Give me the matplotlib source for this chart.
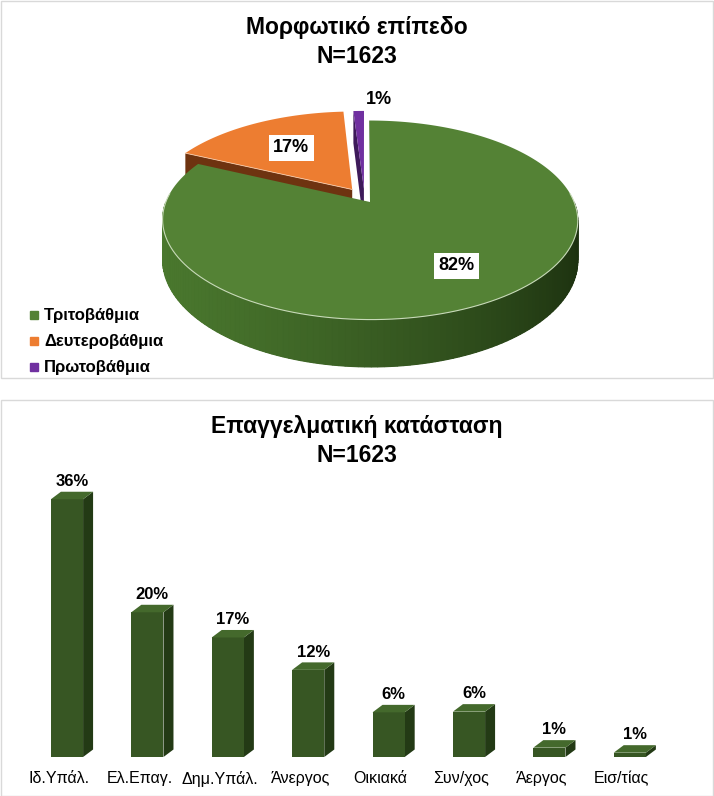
import numpy as np
import matplotlib
matplotlib.use('Agg')
import matplotlib.pyplot as plt
from matplotlib.patches import Polygon, Rectangle
from matplotlib.lines import Line2D
from matplotlib.transforms import ScaledTranslation

plt.rcParams['font.family'] = ['Liberation Sans', 'DejaVu Sans']

# ---- data ----
pie_title = 'Μορφωτικό επίπεδο\nN=1623'
edu_labels = ['Τριτοβάθμια', 'Δευτεροβάθμια', 'Πρωτοβάθμια']
edu_values = [82, 17, 1]
edu_colors = ['#548235', '#ED7D31', '#7030A0']
edu_face_colors = ['#2f4f1e', '#6e3310', '#3d1a5a']
edu_explode = [0.05, 0.11, 0.10]

bar_title = 'Επαγγελματική κατάσταση\nN=1623'
job_labels = ['Ιδ.Υπάλ.', 'Ελ.Επαγ.', 'Δημ.Υπάλ.', 'Άνεργος', 'Οικιακά',
              'Συν/χος', 'Άεργος', 'Εισ/τίας']
job_values = [35.8, 20.1, 16.6, 12.1, 6.2, 6.3, 1.3, 0.6]

W, H = 714, 796
fig = plt.figure(figsize=(W / 100, H / 100), dpi=100)

# panel borders
fig.add_artist(Rectangle((0.5 / W, 1 - 378 / H), 712 / W, 377 / H, transform=fig.transFigure,
                         fill=False, ec='#d9d9d9', lw=1))
fig.add_artist(Rectangle((0.5 / W, 0), 712 / W, 396 / H, transform=fig.transFigure,
                         fill=False, ec='#d9d9d9', lw=1))

fig.text(357 / W, 1 - 42 / H, pie_title, ha='center', va='center', fontsize=16.5,
         fontweight='bold', linespacing=1.35)
fig.text(357 / W, 1 - 441 / H, bar_title, ha='center', va='center', fontsize=16.5,
         fontweight='bold', linespacing=1.3)

# ---- 3D pie ----
P = 0.18      # perspective
DZ = 0.406    # thickness


def proj(u, v, z=0.0):
    u = np.asarray(u, dtype=float)
    v = np.asarray(v, dtype=float)
    w = 1 + P * v
    return u / w, (v - z * DZ) / w


def pts(u, v, z=0.0):
    x, y = proj(u, v, z)
    return np.column_stack([np.atleast_1d(x), np.atleast_1d(y)])


fracs = np.array(edu_values) / sum(edu_values)
starts = 90 - 360 * np.concatenate([[0], np.cumsum(fracs)[:-1]])
ends = starts - 360 * fracs
mids = (starts + ends) / 2
offs = [(e * np.cos(np.radians(m)), e * np.sin(np.radians(m))) for e, m in zip(edu_explode, mids)]

# keep the big slice's apex at the same spot in the panel
gx, gy = proj(*offs[0])
ax_pie = fig.add_axes([0, (H - 380) / H, 1, 290 / H])
ax_pie.set_xlim((0 - 370) / 202.6 + gx, (714 - 370) / 202.6 + gx)
ax_pie.set_ylim((202 - 380) / 94.8 + gy, (202 - 90) / 94.8 + gy)
ax_pie.axis('off')

c_left = np.array([0.29, 0.47, 0.18])
c_right = np.array([0.11, 0.19, 0.06])

# small slices first (behind), green last
for i in [1, 2, 0]:
    a0, a1 = np.radians(starts[i]), np.radians(ends[i])
    ou, ov = offs[i]
    th = np.linspace(a0, a1, 200)
    cu, cv = ou + np.cos(th), ov + np.sin(th)

    if i != 0:
        # cut face at the start edge faces the viewer for these slices
        eu, ev = ou + np.cos(a0), ov + np.sin(a0)
        face = np.vstack([pts([ou, eu], [ov, ev], 0), pts([eu, ou], [ev, ov], 1)])
        ax_pie.add_patch(Polygon(face, closed=True, fc=edu_face_colors[i], ec='none'))
    else:
        # outer wall, front half, shaded
        wt = np.linspace(np.radians(-180), np.radians(0), 121)
        wall = np.vstack([pts(ou + np.cos(wt), ov + np.sin(wt), 0),
                          pts(ou + np.cos(wt[::-1]), ov + np.sin(wt[::-1]), 1)])
        ax_pie.add_patch(Polygon(wall, closed=True, fc=(c_left + c_right) / 2, ec='none'))
        for k in range(len(wt) - 1):
            t0, t1 = wt[k], wt[k + 1]
            uu = np.array([ou + np.cos(t0), ou + np.cos(t1)])
            vv = np.array([ov + np.sin(t0), ov + np.sin(t1)])
            strip = np.vstack([pts(uu, vv, 0), pts(uu[::-1], vv[::-1], 1)])
            s = ((1 + np.cos((t0 + t1) / 2)) / 2) ** 1.4
            col = c_left * (1 - s) + c_right * s
            ax_pie.add_patch(Polygon(strip, closed=True, fc=col, ec=col, lw=0.8))

    top = np.vstack([pts([ou], [ov]), pts(cu, cv)])
    ax_pie.add_patch(Polygon(top, closed=True, fc=edu_colors[i], ec='none'))
    if i == 0:
        rim = np.linspace(np.radians(-185), np.radians(5), 100)
        ax_pie.plot(*proj(ou + np.cos(rim), ov + np.sin(rim)), color='#c8dab9', lw=0.8)
    elif i == 1:
        ax_pie.plot(*proj([ou, ou + np.cos(a0)], [ov, ov + np.sin(a0)]),
                    color='#f6c9a8', lw=0.6)

# pie labels
lab_r = [0.7, 0.6, 1.18]
for i in range(3):
    m = np.radians(mids[i])
    ou, ov = offs[i]
    lx, ly = proj(ou + lab_r[i] * np.cos(m), ov + lab_r[i] * np.sin(m))
    txt = f'{edu_values[i]}%'
    if i == 2:
        ax_pie.annotate(txt, (float(lx), float(ly)), xytext=(6, 0), textcoords='offset points',
                        ha='left', va='center', fontsize=13, fontweight='bold')
    else:
        ax_pie.text(float(lx), float(ly), txt, ha='center', va='center', fontsize=13,
                    fontweight='bold',
                    bbox=dict(boxstyle='square,pad=0.25', fc='white', ec='none'))

handles = [Line2D([], [], marker='s', ls='', color=c, markersize=5.5) for c in edu_colors]
fig.legend(handles, edu_labels, loc='upper left', bbox_to_anchor=(20 / W, 1 - 300 / H),
           frameon=False, prop={'weight': 'bold', 'size': 12},
           handlelength=0.7, handletextpad=0.25, labelspacing=0.66, borderpad=0)

# ---- 3D bars ----
ax_bar = fig.add_axes([26.8 / W, (H - 757) / H, (670 - 26.8) / W, 288 / H])
x = np.arange(len(job_values))
bw = 0.4
ax_bar.set_xlim(-0.5, len(job_values) - 0.5)
ax_bar.set_ylim(0, 40)
ax_bar.bar(x, job_values, width=bw, color='#375623', zorder=2)

dx = 10 / 80.4
dy = 7.5 / 7.2
for xi, h in zip(x, job_values):
    r = xi + bw / 2
    l = xi - bw / 2
    side = [(r, 0), (r + dx, dy), (r + dx, h + dy), (r, h)]
    topf = [(l, h), (r, h), (r + dx, h + dy), (l + dx, h + dy)]
    ax_bar.add_patch(Polygon(side, closed=True, fc='#233a15', ec='none', zorder=1))
    ax_bar.add_patch(Polygon(topf, closed=True, fc='#44692c', ec='none', zorder=3))
    ax_bar.annotate(f'{round(h)}%', (xi + dx / 2, h + dy), xytext=(0, 2),
                    textcoords='offset points', ha='center', va='bottom',
                    fontsize=12, fontweight='bold')

ax_bar.set_xticks(x, job_labels, fontsize=11.5)
ax_bar.tick_params(axis='x', length=0, pad=10)
shift = ScaledTranslation(-8 / 100, 0, fig.dpi_scale_trans)
for lab in ax_bar.get_xticklabels():
    lab.set_transform(lab.get_transform() + shift)
ax_bar.set_yticks([])
for s in ax_bar.spines.values():
    s.set_visible(False)
ax_bar.patch.set_alpha(0)

fig.savefig('out.png', dpi=100)
